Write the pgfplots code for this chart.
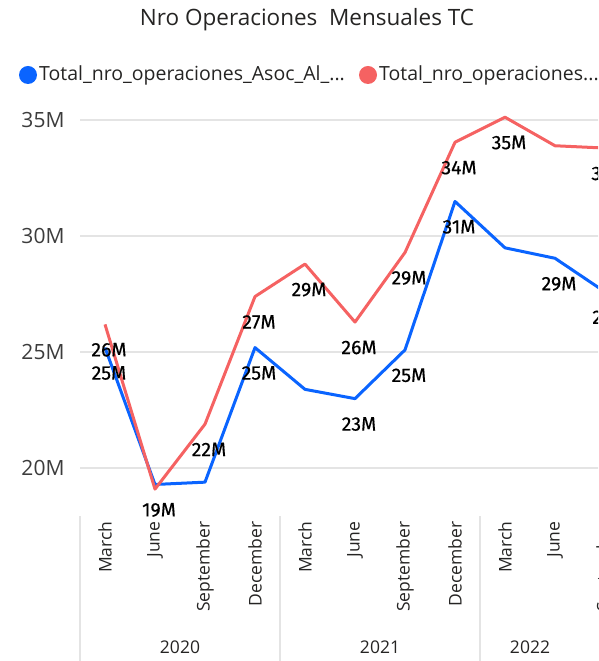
\documentclass[border=0pt]{standalone}
\usepackage{pgfplots}
\pgfplotsset{compat=1.18}
\usepackage{fontspec}
\setmainfont{Open Sans}
\newfontfamily\dinfont{Fira Sans}[FakeBold=0.4]
\definecolor{pbblue}{RGB}{10,100,255}
\definecolor{pbred}{RGB}{245,98,98}
\definecolor{gridgray}{RGB}{228,228,228}
\definecolor{txt}{RGB}{37,36,35}
\definecolor{ticktxt}{RGB}{60,60,60}

\begin{document}
\begin{tikzpicture}[x=1pt,y=1pt]
\path[use as bounding box] (0,0) rectangle (598,661);
\clip (0,0) rectangle (598,661);
% title and legend
\node[font=\fontsize{22.5}{26}\selectfont, text=txt] at (307,641) {Nro Operaciones\ \ Mensuales TC};
\fill[pbblue] (28,586) circle (9);
\node[anchor=west, inner sep=0pt, font=\fontsize{19.5}{23}\selectfont, text=txt] at (39,586) {Total\_nro\_operaciones\_Asoc\_Al\_...};
\fill[pbred] (368,586) circle (9);
\node[anchor=west, inner sep=0pt, font=\fontsize{19.5}{23}\selectfont, text=txt] at (379,586) {Total\_nro\_operaciones...};

\begin{axis}[
  at={(80pt,151pt)}, anchor=south west,
  x=50pt, y=23.2pt,
  xmin=-0.5, xmax=11.5, ymin=18.2, ymax=35.8,
  clip=false,
  axis line style={draw=none},
  major tick length=0pt,
  ytick={20,25,30,35},
  yticklabels={20M,25M,30M,35M},
  yticklabel style={font=\fontsize{21}{24}\selectfont, text=ticktxt, xshift=-12pt},
  ymajorgrids,
  grid style={gridgray, line width=1.5pt},
  xtick={0,...,10},
  xticklabels={March,June,September,December,March,June,September,December,March,June,September},
  xticklabel style={rotate=90, anchor=east, font=\fontsize{17.5}{20}\selectfont, text=txt, xshift=-8pt},
  every node near coord/.append style={font=\dinfont\fontsize{19.5}{22}\selectfont, text=black, yshift=-15pt, xshift=4pt},
  nodes near coords align={below},
]
% lines
\addplot[pbblue, line width=3pt, line join=round] coordinates {
  (0,25.2) (1,19.3) (2,19.4) (3,25.2) (4,23.4) (5,23.0) (6,25.1) (7,31.5) (8,29.5) (9,29.05) (10,27.6)};
\addplot[pbred, line width=3pt, line join=round] coordinates {
  (0,26.2) (1,19.1) (2,21.9) (3,27.4) (4,28.8) (5,26.3) (6,29.3) (7,34.05) (8,35.13) (9,33.9) (10,33.8)};
% data labels (only those shown)
\addplot[draw=none, mark=none, nodes near coords, point meta=explicit symbolic] coordinates {
  (0,25.2)[25M] (1,19.3)[19M] (3,25.2)[25M] (5,23.0)[23M] (6,25.1)[25M] (7,31.5)[31M] (9,29.05)[29M] (10,27.6)[27M]};
\addplot[draw=none, mark=none, nodes near coords, point meta=explicit symbolic] coordinates {
  (0,26.2)[26M] (2,21.9)[22M] (3,27.4)[27M] (4,28.8)[29M] (5,26.3)[26M] (6,29.3)[29M] (7,34.05)[34M] (8,35.13)[35M] (10,33.8)[34M]};
% year separators and labels
\draw[gridgray, line width=1.5pt] (axis cs:-0.5,17.95) -- (axis cs:-0.5,11);
\draw[gridgray, line width=1.5pt] (axis cs:3.5,17.95) -- (axis cs:3.5,11);
\draw[gridgray, line width=1.5pt] (axis cs:7.5,17.95) -- (axis cs:7.5,11);
\node[font=\fontsize{17.5}{20}\selectfont, text=txt] at (axis cs:1.5,18.2) [yshift=-137pt] {2020};
\node[font=\fontsize{17.5}{20}\selectfont, text=txt] at (axis cs:5.5,18.2) [yshift=-137pt] {2021};
\node[font=\fontsize{17.5}{20}\selectfont, text=txt] at (axis cs:8.5,18.2) [yshift=-137pt] {2022};
\end{axis}
\end{tikzpicture}
\end{document}
